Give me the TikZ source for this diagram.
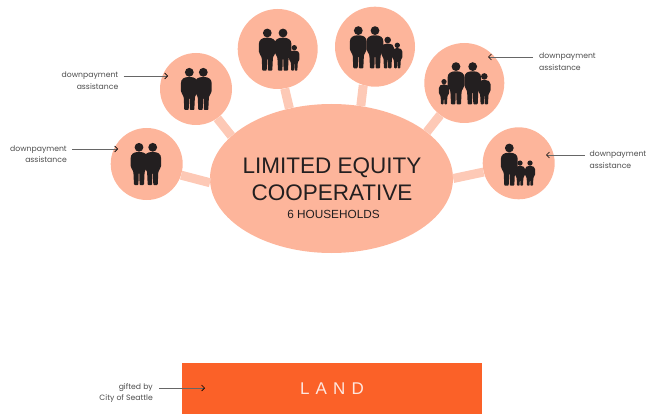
\documentclass[tikz,border=0pt]{standalone}
\usepackage{fontspec}
\usepackage{tikz}
\usetikzlibrary{shapes.geometric,arrows.meta}
\setmainfont{Liberation Sans}
\newfontfamily\notefont{Poppins}
\newfontfamily\landfont[LetterSpace=36]{Liberation Sans}
\definecolor{hubpeach}{HTML}{FDB59B}
\definecolor{spokepeach}{HTML}{FDC9B6}
\definecolor{landorange}{HTML}{FB6128}
\definecolor{iconblack}{HTML}{231F20}
\tikzset{
    household/.style={circle,fill=hubpeach,inner sep=0pt,minimum size=#1},
    spoke/.style={spokepeach,line width=9pt},
    note/.style={font=\notefont\fontsize{7.7}{11.5}\selectfont,text=black!70,inner sep=0pt},
    pointer/.style={black!60,line width=.6pt,-{Straight Barb[length=3pt,width=6pt,black]}},
    person/.pic={
        \fill[iconblack] (0,-37.7) circle (4.4);
        \fill[iconblack,rounded corners=.8pt] (-5,0) -- (-5.6,-13)
            .. controls (-7,-16) and (-8.4,-18) .. (-8.4,-20) -- (-8.4,-26)
            .. controls (-8.4,-31) and (-5,-33) .. (0,-33)
            .. controls (5,-33) and (8.4,-31) .. (8.4,-26) -- (8.4,-20)
            .. controls (8.4,-18) and (7,-16) .. (5.6,-13) -- (5,0)
            -- (.6,0) -- (.3,-12) -- (-.3,-12) -- (-.6,0) -- cycle;
    }
}
\begin{document}
\begin{tikzpicture}[x=1pt,y=-1pt]
    \useasboundingbox (0,0) rectangle (647,414);
    %hub and the six households
    \node[ellipse,fill=hubpeach,inner sep=0pt,minimum width=243pt,minimum height=149pt] (hub) at (331.5,178.5) {};
    \node[household=72pt] (hhA) at (146.7,164) {};
    \node[household=72pt] (hhB) at (196,89) {};
    \node[household=80pt] (hhC) at (277.7,49) {};
    \node[household=80pt] (hhD) at (375,46.7) {};
    \node[household=80pt] (hhE) at (464.3,83) {};
    \node[household=72pt] (hhF) at (518.7,163.3) {};
    \draw[spoke] (hhA.-18) -- (hub.182);
    \draw[spoke] (hhB.-54) -- (hub.157);
    \draw[spoke] (hhC.-80) -- (hub.121);
    \draw[spoke] (hhD.253) -- (hub.68);
    \draw[spoke] (hhE.233) -- (hub.26);
    \draw[spoke] (hhF.194) -- (hub.0);
    \node[align=center,inner sep=0pt,text=iconblack,font=\fontsize{22.5}{27}\selectfont] (hubtitle) at (332,179.5) {LIMITED EQUITY\\COOPERATIVE};
    \node[inner sep=0pt,text=iconblack,font=\fontsize{11.8}{12}\selectfont] (hubcount) at (333.5,214) {6 HOUSEHOLDS};
    %people, feet at x,y
    \foreach \px/\py/\ps in {139/185/1,152.7/185/1,189.3/110/1,203.3/110/1,
        267.3/70.7/1,283/70.7/1,294.3/70.7/.61,
        358.3/68.3/1,375/68.3/1,387.7/68.3/.75,397.3/68.3/.61,
        456/104.3/1,472.7/104.3/1,444/104.3/.6,484.3/104.3/.74,
        509.3/185.7/1,520/185.7/.6,530/185.7/.6}
        \pic[scale=\ps] at (\px,\py) {person};
    %land
    \node[fill=landorange,inner sep=0pt,minimum width=300pt,minimum height=51pt,text=white!85!landorange,font=\landfont\fontsize{17}{17}\selectfont] (land) at (332,388.5) {LAND};
    %notes and their arrows
    \node[note,align=right,anchor=north east] (noteA) at (67,145.5) {downpayment\\assistance};
    \node[note,align=right,anchor=north east] (noteB) at (118.5,72) {downpayment\\assistance};
    \node[note,align=left,anchor=north west] (noteE) at (539,53) {downpayment\\assistance};
    \node[note,align=left,anchor=north west] (noteF) at (589.5,151) {downpayment\\assistance};
    \node[note,align=right,anchor=north east] (noteL) at (153,383) {gifted by\\City of Seattle};
    \coordinate (tipA) at (118,149);
    \coordinate (tipB) at (168,76);
    \coordinate (tipE) at (488,57);
    \coordinate (tipF) at (546,155);
    \coordinate (tipL) at (205,388);
    \draw[pointer] ([xshift=5pt]noteA.east |- tipA) -- (tipA);
    \draw[pointer] ([xshift=5pt]noteB.east |- tipB) -- (tipB);
    \draw[pointer] ([xshift=-6pt]noteE.west |- tipE) -- (tipE);
    \draw[pointer] ([xshift=-5pt]noteF.west |- tipF) -- (tipF);
    \draw[pointer] ([xshift=6pt]noteL.east |- tipL) -- (tipL);
\end{tikzpicture}
\end{document}
